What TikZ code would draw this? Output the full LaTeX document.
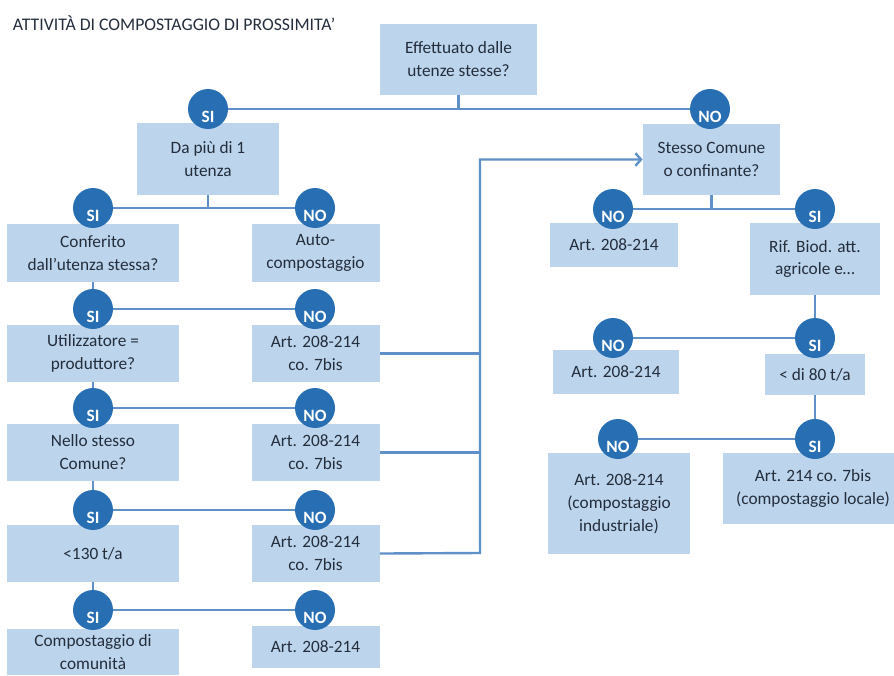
\documentclass[tikz,border=0pt]{standalone}
\usepackage{fontspec}
\setmainfont{Carlito}
\usepackage{xcolor}
\definecolor{boxblue}{RGB}{189,213,236}
\definecolor{circblue}{RGB}{40,110,178}
\definecolor{lineblue}{RGB}{95,145,200}
\definecolor{ink}{RGB}{35,45,60}
\usepackage{tikz}
\usetikzlibrary{arrows.meta}
\newcommand{\yn}[1]{\raisebox{-0.33cm}[0pt][0pt]{#1}}
\newcommand{\boxfont}{\fontsize{12.3}{16.3}\selectfont}
\tikzset{
    box/.style={fill=boxblue, text=ink, align=center, font=\boxfont, inner sep=0pt},
    leftbox/.style={box, minimum width=4.3cm, minimum height=1.43cm},
    rightbox/.style={box, minimum width=3.2cm, minimum height=1.43cm},
    answer/.style={circle, fill=circblue, text=white, minimum size=1cm, inner sep=0pt,
        font=\fontsize{12.3}{14}\selectfont\bfseries},
    link/.style={draw=lineblue, line width=1.7pt},
    feed/.style={link, -{Straight Barb[length=4pt, width=9pt]}}
}

\begin{document}
\begin{tikzpicture}
      \useasboundingbox (0,0) rectangle (22.35,-16.875);

      \node[anchor=base west, text=ink, font=\fontsize{12.6}{15}\selectfont] (title) at (0.2,-0.75)
          {ATTIVITÀ DI COMPOSTAGGIO DI PROSSIMITA'};

      % left branch
      \path
          (11.4625,-1.4875) node[box, minimum width=3.93cm, minimum height=1.78cm] (top) {Effettuato dalle\\utenze stesse?}
          (5.2,-3.975) node[box, minimum width=3.55cm, minimum height=1.8cm] (dapiu) {Da più di 1\\utenza}
          (2.325,-6.325) node[leftbox, minimum height=1.45cm] (conferito) {Conferito\\dall'utenza stessa?}
          (7.8875,-6.325) node[rightbox, minimum height=1.45cm] (auto) {Auto-\\compostaggio}
          (2.325,-8.8375) node[leftbox] (utilizz) {Utilizzatore =\\produttore?}
          (7.8875,-8.8375) node[rightbox] (art-a) {Art. 208-214\\co. 7bis}
          (2.325,-11.3125) node[leftbox] (nello) {Nello stesso\\Comune?}
          (7.8875,-11.3125) node[rightbox] (art-b) {Art. 208-214\\co. 7bis}
          (2.325,-13.8375) node[leftbox] (lt130) {<130 t/a}
          (7.8875,-13.8375) node[rightbox] (art-c) {Art. 208-214\\co. 7bis}
          (2.325,-16.3) node[leftbox, minimum height=1.15cm] (comunita) {Compostaggio di\\comunità}
          (7.8875,-16.175) node[rightbox, minimum height=1.05cm] (art-d) {Art. 208-214};

      % right branch
      \path
          (17.7875,-3.9875) node[box, minimum width=3.43cm, minimum height=1.78cm] (stesso) {Stesso Comune\\o confinante?}
          (15.35,-6.125) node[rightbox, minimum height=1.1cm] (r-no-a) {Art. 208-214}
          (20.375,-6.475) node[box, minimum width=3.23cm, minimum height=1.8cm] (rif) {Rif. Biod. att.\\agricole e…}
          (15.4,-9.3) node[box, minimum width=3.15cm, minimum height=1.1cm] (r-no-b) {Art. 208-214}
          (20.375,-9.3625) node[box, minimum width=2.48cm, minimum height=1.03cm] (lt80) {< di 80 t/a}
          (15.475,-12.5875) node[box, minimum width=3.55cm, minimum height=2.53cm] (r-no-c) {Art. 208-214\\(compostaggio\\industriale)}
          (20.325,-12.2125) node[box, minimum width=4.5cm, minimum height=1.78cm] (r-si-c) {Art. 214 co. 7bis\\(compostaggio locale)};

      % answers
      \path
          (5.2,-2.725) node[answer] (si-1) {\yn{SI}}
          (17.75,-2.725) node[answer] (no-1) {\yn{NO}}
          (2.325,-5.2) node[answer] (si-2) {\yn{SI}}
          (7.875,-5.2) node[answer] (no-2) {\yn{NO}}
          (2.325,-7.725) node[answer] (si-3) {\yn{SI}}
          (7.875,-7.725) node[answer] (no-3) {\yn{NO}}
          (2.325,-10.2) node[answer] (si-4) {\yn{SI}}
          (7.875,-10.2) node[answer] (no-4) {\yn{NO}}
          (2.325,-12.75) node[answer] (si-5) {\yn{SI}}
          (7.875,-12.75) node[answer] (no-5) {\yn{NO}}
          (2.325,-15.25) node[answer] (si-6) {\yn{SI}}
          (7.875,-15.25) node[answer] (no-6) {\yn{NO}}
          (15.325,-5.225) node[answer] (r-no-1) {\yn{NO}}
          (20.375,-5.225) node[answer] (r-si-1) {\yn{SI}}
          (15.325,-8.45) node[answer] (r-no-2) {\yn{NO}}
          (20.375,-8.45) node[answer] (r-si-2) {\yn{SI}}
          (15.45,-10.975) node[answer] (r-no-3) {\yn{NO}}
          (20.375,-10.975) node[answer] (r-si-3) {\yn{SI}};

      \coordinate (bus) at (12,-13.825);

      \draw[link] (top.south) -- (top.south |- si-1) (si-1) -- (no-1);
      \draw[link] (dapiu.south) -- (dapiu.south |- si-2) (si-2) -- (no-2);
      \draw[link] (conferito) -- (si-3) (si-3) -- (no-3);
      \draw[link] (utilizz) -- (si-4) (si-4) -- (no-4);
      \draw[link] (nello) -- (si-5) (si-5) -- (no-5);
      \draw[link] (lt130) -- (si-6) (si-6) -- (no-6);

      \draw[link] (stesso.south) -- (stesso.south |- r-si-1) (r-no-1) -- (r-si-1);
      \draw[link] (rif) -- (r-si-2) (r-no-2) -- (r-si-2);
      \draw[link] (lt80) -- (r-si-3) (r-no-3) -- (r-si-3);

      \draw[link] (art-a.east) -- (art-a.east -| bus) (art-b.east) -- (art-b.east -| bus);
      \draw[feed] (art-c.east) -- (bus) -- (bus |- stesso.west) -- (stesso.west);
\end{tikzpicture}
\end{document}
